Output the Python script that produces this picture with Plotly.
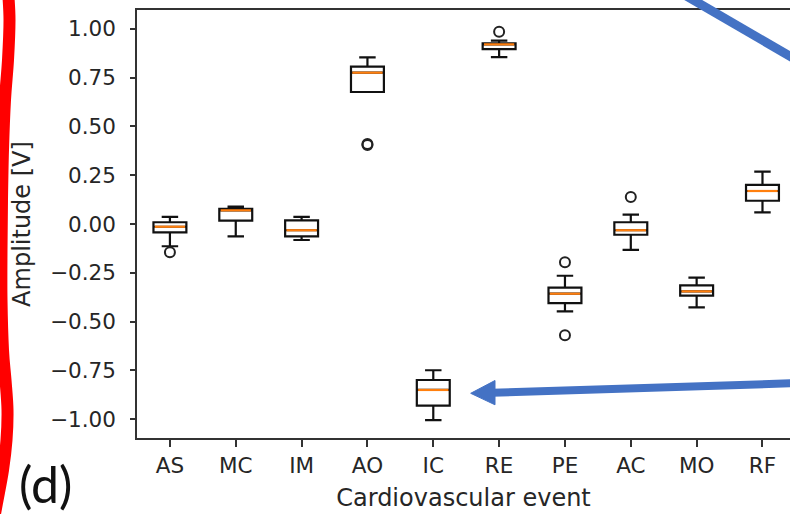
import plotly.graph_objects as go

# ---- data ----
categories = ["AS", "MC", "IM", "AO", "IC", "RE", "PE", "AC", "MO", "RF"]
positions = list(range(1, len(categories) + 1))
q1 = [-0.043, 0.017, -0.063, 0.676, -0.930, 0.896, -0.405, -0.055, -0.367, 0.119]
median = [-0.014, 0.070, -0.032, 0.775, -0.850, 0.920, -0.357, -0.032, -0.345, 0.169]
q3 = [0.009, 0.077, 0.019, 0.806, -0.799, 0.925, -0.326, 0.009, -0.314, 0.200]
lower_whisker = [-0.114, -0.063, -0.082, 0.676, -1.004, 0.855, -0.447, -0.133, -0.427, 0.060]
upper_whisker = [0.037, 0.089, 0.037, 0.853, -0.749, 0.939, -0.265, 0.048, -0.275, 0.268]
outlier_cat = ["AS", "AO", "AO", "RE", "PE", "PE", "AC"]
outlier_val = [-0.145, 0.410, 0.404, 0.985, -0.196, -0.570, 0.138]
y_ticks = [1.0, 0.75, 0.5, 0.25, 0.0, -0.25, -0.5, -0.75, -1.0]

BOX_W = 0.5
FONT = "DejaVu Sans"
TXT = "#262626"

fig = go.Figure()

fig.add_trace(go.Box(
    x=positions, q1=q1, median=median, q3=q3,
    lowerfence=lower_whisker, upperfence=upper_whisker,
    width=BOX_W, whiskerwidth=0.5,
    line=dict(color="#111111", width=2.2),
    fillcolor="rgba(255,255,255,0)",
    boxpoints=False, showlegend=False,
))

# orange median lines
mx, my = [], []
for p, m in zip(positions, median):
    mx += [p - BOX_W / 2 + 0.02, p + BOX_W / 2 - 0.02, None]
    my += [m, m, None]
fig.add_trace(go.Scatter(x=mx, y=my, mode="lines",
                         line=dict(color="#ff7f0e", width=2.2),
                         showlegend=False, hoverinfo="skip"))

# outliers
ox = [positions[categories.index(c)] for c in outlier_cat]
fig.add_trace(go.Scatter(x=ox, y=outlier_val, mode="markers",
                         marker=dict(symbol="circle-open", size=10,
                                     color="#222222", line=dict(width=2)),
                         showlegend=False))

# ---- layout ----
L, R, T, B = 137, 0, 10, 76
W, H = 790, 514
pw, ph = W - L - R, H - T - B


def P(px, py):
    return (px - L) / pw, (H - B - py) / ph


def smooth_path(pts):
    pp = [P(*q) for q in pts]
    d = "M %.5f,%.5f" % pp[0]
    for i in range(len(pp) - 1):
        p0 = pp[i - 1] if i > 0 else pp[i]
        p1, p2 = pp[i], pp[i + 1]
        p3 = pp[i + 2] if i + 2 < len(pp) else pp[i + 1]
        c1 = (p1[0] + (p2[0] - p0[0]) / 6, p1[1] + (p2[1] - p0[1]) / 6)
        c2 = (p2[0] - (p3[0] - p1[0]) / 6, p2[1] - (p3[1] - p1[1]) / 6)
        d += " C %.5f,%.5f %.5f,%.5f %.5f,%.5f" % (c1 + c2 + p2)
    return d


shapes = []
# red wavy border on the left
red_pts = [(8, -10), (9.5, 20), (8, 60), (5, 100), (3, 150), (2, 200), (1.5, 250),
           (1.5, 300), (3, 350), (5.5, 380), (7.5, 410), (6.5, 440), (3, 470),
           (-3, 503), (-8, 530)]
shapes.append(dict(type="path", xref="paper", yref="paper", path=smooth_path(red_pts),
                   line=dict(color="#ff0000", width=12), layer="above"))
# blue line top right
x0, y0 = P(676, -10)
x1, y1 = P(800, 62)
shapes.append(dict(type="line", xref="paper", yref="paper", x0=x0, y0=y0, x1=x1, y1=y1,
                   line=dict(color="#4472C4", width=9), layer="above"))
# blue arrow to IC box
x0, y0 = P(800, 383)
x1, y1 = P(492, 392.7)
shapes.append(dict(type="line", xref="paper", yref="paper", x0=x0, y0=y0, x1=x1, y1=y1,
                   line=dict(color="#4472C4", width=8), layer="above"))
a = P(470.7, 393.3)
b = P(495, 380.5)
c = P(495, 404.8)
shapes.append(dict(type="path", xref="paper", yref="paper",
                   path="M %.5f,%.5f L %.5f,%.5f L %.5f,%.5f Z" % (a + b + c),
                   fillcolor="#4472C4", line=dict(color="#4472C4", width=1), layer="above"))

dx, dy = P(45, 484)
fig.update_layout(
    width=W, height=H,
    margin=dict(l=L, r=R, t=T, b=B, pad=0),
    paper_bgcolor="white", plot_bgcolor="white",
    font=dict(family=FONT, color=TXT, size=21),
    shapes=shapes,
    annotations=[dict(text="(d)", xref="paper", yref="paper", x=dx, y=dy,
                      xanchor="center", yanchor="middle", showarrow=False,
                      font=dict(family="Lato", size=50, color="#111111"))],
    xaxis=dict(range=[0.5, 10.418], tickvals=positions, ticktext=categories,
               showline=True, linecolor="#333333", linewidth=1.6, mirror=True,
               ticks="outside", ticklen=7, tickwidth=1.5, tickcolor="#333333",
               showgrid=False, zeroline=False, automargin=False,
               tickfont=dict(family=FONT, size=21.5, color=TXT),
               title=dict(text="Cardiovascular event", standoff=13,
                          font=dict(family=FONT, size=24, color=TXT))),
    yaxis=dict(range=[-1.096, 1.096], tickvals=y_ticks, tickformat=".2f",
               showline=True, linecolor="#333333", linewidth=1.6, mirror=False,
               ticks="outside", ticklen=5, tickwidth=1.5, tickcolor="#333333",
               showgrid=False, zeroline=False, automargin=False,
               ticklabelstandoff=10,
               tickfont=dict(family=FONT, size=21.5, color=TXT),
               title=dict(text="Amplitude [V]", standoff=13,
                          font=dict(family=FONT, size=24, color=TXT))),
)

fig.write_html("out.html")
